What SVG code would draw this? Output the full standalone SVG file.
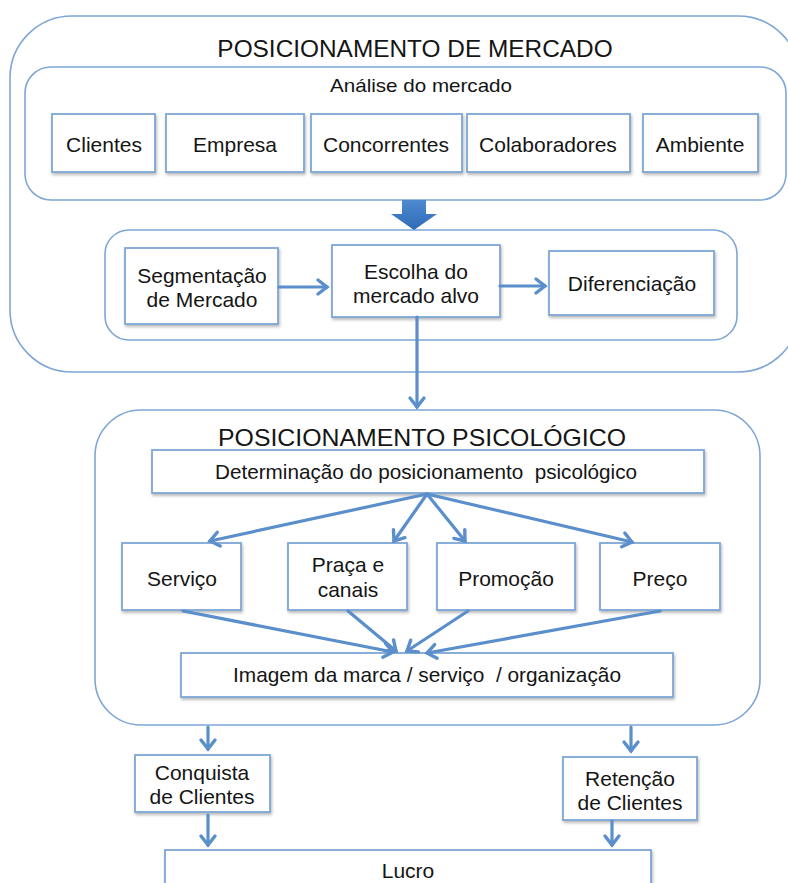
<svg xmlns="http://www.w3.org/2000/svg" width="788" height="883" viewBox="0 0 788 883">
  <defs>
    <style>
      .frame { fill: #ffffff; stroke: #7ea6d6; stroke-width: 1.6; }
      .box { fill: #ffffff; stroke: #7ea6d6; stroke-width: 1.8; filter: url(#shadow); }
      .t { font-family: "Liberation Sans", Arial, sans-serif; fill: #151515; text-anchor: middle; }
      .title { font-size: 24.4px; }
      .lbl { font-size: 21px; }
      .lnk { fill: none; stroke: #5b8fcb; stroke-width: 3.2; stroke-linecap: round; marker-end: url(#head); }
    </style>
    <filter id="shadow" x="-10%" y="-10%" width="125%" height="130%">
      <feDropShadow dx="1" dy="2" stdDeviation="1.4" flood-color="#000" flood-opacity="0.28"/>
    </filter>
    <marker id="head" markerUnits="userSpaceOnUse" markerWidth="20" markerHeight="20" viewBox="-12 -10 14 20" refX="0" refY="0" orient="auto">
      <path d="M-9,-7 L0,0 L-9,7" fill="none" stroke="#5b8fcb" stroke-width="3.4" stroke-linecap="round" stroke-linejoin="miter"/>
    </marker>
    <linearGradient id="blockFill" x1="0" y1="0" x2="0" y2="1">
      <stop offset="0" stop-color="#4f8ad0"/>
      <stop offset="1" stop-color="#2e6bb6"/>
    </linearGradient>
  </defs>

  <!-- market positioning frame -->
  <g id="posicionamento-mercado">
    <rect class="frame" x="10" y="16" width="790" height="356" rx="62" ry="62"/>
    <text class="t title" x="415" y="57">POSICIONAMENTO DE MERCADO</text>
  </g>

  <g id="analise-mercado">
    <rect class="frame" x="25" y="67" width="761" height="133" rx="26" ry="26"/>
    <text class="t lbl" x="421" y="92" textLength="182" lengthAdjust="spacingAndGlyphs" style="font-size:18.5px">Análise do mercado</text>
  </g>

  <g id="clientes">
    <rect class="box" x="52" y="114" width="103" height="58"/>
    <text class="t lbl" x="104" y="152">Clientes</text>
  </g>
  <g id="empresa">
    <rect class="box" x="166" y="114" width="138" height="58"/>
    <text class="t lbl" x="235" y="152">Empresa</text>
  </g>
  <g id="concorrentes">
    <rect class="box" x="311" y="114" width="151" height="58"/>
    <text class="t lbl" x="386" y="152">Concorrentes</text>
  </g>
  <g id="colaboradores">
    <rect class="box" x="467" y="114" width="163" height="58"/>
    <text class="t lbl" x="548" y="152">Colaboradores</text>
  </g>
  <g id="ambiente">
    <rect class="box" x="643" y="114" width="115" height="58"/>
    <text class="t lbl" x="700" y="152">Ambiente</text>
  </g>

  <g id="estrategia">
    <rect class="frame" x="105" y="230" width="632" height="110" rx="24" ry="24"/>
  </g>

  <g id="segmentacao">
    <rect class="box" x="125" y="248" width="153" height="76"/>
    <text class="t lbl" x="202" y="283">Segmentação</text>
    <text class="t lbl" x="202" y="307">de Mercado</text>
  </g>
  <g id="escolha">
    <rect class="box" x="332" y="245" width="168" height="72"/>
    <text class="t lbl" x="416" y="279">Escolha do</text>
    <text class="t lbl" x="416" y="303">mercado alvo</text>
  </g>
  <g id="diferenciacao">
    <rect class="box" x="549" y="251" width="165" height="64"/>
    <text class="t lbl" x="632" y="291">Diferenciação</text>
  </g>

  <!-- psychological positioning frame -->
  <g id="posicionamento-psicologico">
    <rect class="frame" x="95" y="410" width="665" height="315" rx="46" ry="46"/>
    <text class="t title" x="422" y="446" textLength="408" lengthAdjust="spacingAndGlyphs">POSICIONAMENTO PSICOLÓGICO</text>
  </g>

  <g id="determinacao">
    <rect class="box" x="152" y="450" width="552" height="43"/>
    <text class="t lbl" x="426" y="479" textLength="422" lengthAdjust="spacingAndGlyphs" xml:space="preserve">Determinação do posicionamento  psicológico</text>
  </g>

  <g id="servico">
    <rect class="box" x="122" y="543" width="119" height="67"/>
    <text class="t lbl" x="182" y="586">Serviço</text>
  </g>
  <g id="praca">
    <rect class="box" x="288" y="543" width="119" height="67"/>
    <text class="t lbl" x="348" y="572">Praça e</text>
    <text class="t lbl" x="348" y="597">canais</text>
  </g>
  <g id="promocao">
    <rect class="box" x="437" y="543" width="138" height="67"/>
    <text class="t lbl" x="506" y="586">Promoção</text>
  </g>
  <g id="preco">
    <rect class="box" x="600" y="543" width="120" height="67"/>
    <text class="t lbl" x="660" y="586">Preço</text>
  </g>

  <g id="imagem">
    <rect class="box" x="181" y="653" width="492" height="44"/>
    <text class="t lbl" x="427" y="682" textLength="388" lengthAdjust="spacingAndGlyphs" xml:space="preserve">Imagem da marca / serviço  / organização</text>
  </g>

  <g id="conquista">
    <rect class="box" x="135" y="755" width="135" height="57"/>
    <text class="t lbl" x="202" y="780">Conquista</text>
    <text class="t lbl" x="202" y="804">de Clientes</text>
  </g>
  <g id="retencao">
    <rect class="box" x="563" y="757" width="134" height="63"/>
    <text class="t lbl" x="630" y="786">Retenção</text>
    <text class="t lbl" x="630" y="810">de Clientes</text>
  </g>

  <g id="lucro">
    <rect class="box" x="165" y="850" width="486" height="60"/>
    <text class="t lbl" x="408" y="878">Lucro</text>
  </g>

  <!-- connectors -->
  <g id="connectors">
    <path d="M402,200 L426,200 L426,214 L437,214 L414,230 L391,214 L402,214 Z" fill="url(#blockFill)"/>
    <path class="lnk" d="M279,287 L327,287"/>
    <path class="lnk" d="M500,286 L545,286"/>
    <path class="lnk" d="M417,317 L417,407"/>
    <path class="lnk" d="M427,494 L210,541"/>
    <path class="lnk" d="M427,494 L394,541"/>
    <path class="lnk" d="M427,494 L465,541"/>
    <path class="lnk" d="M427,494 L632,542"/>
    <path class="lnk" d="M183,611 L393,652"/>
    <path class="lnk" d="M348,611 L396,651"/>
    <path class="lnk" d="M468,611 L407,651"/>
    <path class="lnk" d="M660,611 L427,653"/>
    <path class="lnk" d="M208,727 L208,749"/>
    <path class="lnk" d="M208,815 L208,845"/>
    <path class="lnk" d="M631,727 L631,751"/>
    <path class="lnk" d="M612,821 L612,845"/>
  </g>
</svg>
